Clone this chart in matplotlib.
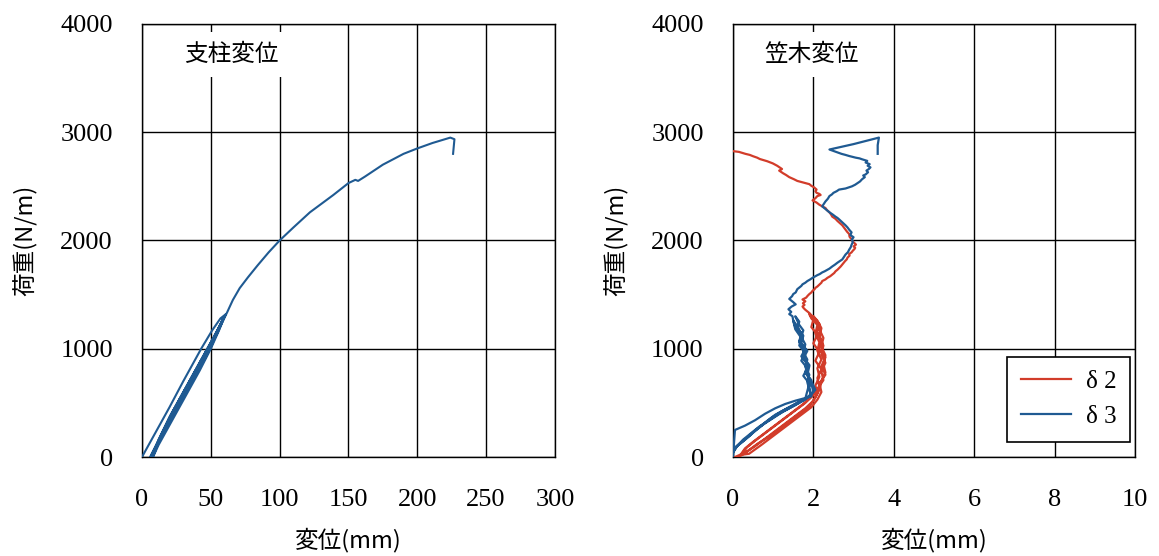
import matplotlib
matplotlib.use("Agg")
import matplotlib.pyplot as plt

# --- 支柱変位 (post displacement): mm vs N/m ---
post_disp = [0, 10, 20, 30, 43, 51, 57, 61,
             59, 52, 42, 32, 22, 14, 8,
             12, 22, 32, 42, 50, 56, 60,
             58, 51, 41, 31, 21, 13, 6,
             10, 20, 30, 40, 48, 55, 59,
             57, 50, 40, 30, 20, 12, 7,
             11, 21, 31, 41, 49, 56, 62,
             66, 71, 77, 84, 92, 100, 110, 122, 139, 150, 155, 157, 162, 175, 190,
             200, 211, 224, 227, 226]
post_load = [0, 230, 460, 700, 1000, 1170, 1280, 1320,
             1280, 1100, 870, 640, 410, 200, 0,
             110, 340, 570, 800, 1000, 1170, 1300,
             1250, 1080, 850, 620, 390, 180, 0,
             100, 330, 560, 790, 980, 1160, 1280,
             1220, 1060, 830, 600, 370, 160, 0,
             110, 340, 570, 800, 990, 1180, 1340,
             1450, 1560, 1660, 1770, 1890, 2000, 2120, 2260, 2420, 2530, 2560, 2550, 2590, 2700, 2800,
             2850, 2900, 2950, 2935, 2800]

# --- 笠木変位 δ2: load cycles, then final loading ---
d2_cyc_disp = [0.05, 0.35, 0.6, 0.9, 1.15, 1.4, 1.65, 1.9, 2.05, 2.15, 2.2, 2.3, 2.25, 2.3, 2.2, 2.25, 2.15, 2.1, 2.0,
               2.1, 2.2, 2.15, 2.25, 2.2, 2.3, 2.2, 2.25, 2.1, 1.95, 1.75, 1.5, 1.25, 1.0, 0.75, 0.5, 0.3, 0.15,
               0.3, 0.55, 0.8, 1.05, 1.3, 1.55, 1.8, 2.0, 2.1, 2.05, 2.15, 2.1, 2.2, 2.1, 2.15, 2.05, 2.1, 1.95, 1.9,
               2.0, 1.95, 2.1, 2.0, 2.15, 2.05, 2.2, 2.1, 2.15, 2.0, 1.8, 1.55, 1.3, 1.05, 0.8, 0.55, 0.35, 0.2,
               0.4, 0.7, 0.95, 1.2, 1.45, 1.7, 1.95, 2.1, 2.2, 2.15, 2.3, 2.2, 2.3, 2.15, 2.2, 2.1, 2.15, 2.0, 1.9]
d2_cyc_load = [0, 50, 120, 190, 260, 330, 400, 470, 550, 620, 700, 780, 860, 940, 1020, 1100, 1180, 1250, 1300,
               1260, 1190, 1110, 1030, 950, 870, 790, 710, 630, 560, 490, 420, 350, 280, 210, 140, 80, 0,
               40, 100, 170, 240, 310, 380, 450, 520, 590, 660, 740, 820, 900, 980, 1060, 1140, 1220, 1280, 1320,
               1270, 1200, 1130, 1050, 970, 890, 810, 730, 650, 570, 500, 430, 360, 290, 220, 150, 90, 20,
               30, 110, 180, 250, 320, 390, 460, 530, 600, 680, 760, 840, 920, 1000, 1080, 1160, 1230, 1290, 1330]
d2_fin_disp = [1.9, 1.85, 1.8, 1.76, 1.73, 1.78, 1.74, 1.8, 1.73, 1.82,
               1.86, 1.9, 1.95, 1.98, 2.03, 2.05, 2.1, 2.15, 2.2, 2.22,
               2.3, 2.35, 2.42, 2.47, 2.52, 2.55, 2.6, 2.64, 2.68, 2.72,
               2.76, 2.79, 2.83, 2.85, 2.9, 2.89, 2.95, 2.98, 3.02, 3.04,
               3.0, 3.06, 3.01, 2.97, 2.95, 2.9, 2.89, 2.84, 2.8, 2.76,
               2.72, 2.66, 2.6, 2.55, 2.47, 2.44, 2.4, 2.34, 2.3, 2.22,
               2.15, 2.08, 1.98, 2.05, 2.1, 2.18, 2.15, 2.08, 2.05, 2.08,
               2.02, 1.95, 1.9, 1.8, 1.72, 1.6, 1.52, 1.4, 1.32, 1.25,
               1.15, 1.22, 1.1, 0.99, 0.92, 0.85, 0.76, 0.67, 0.6, 0.5,
               0.42, 0.31, 0.22, 0.15, 0.05, 0.0]
d2_fin_load = [1330, 1345, 1360, 1375, 1390, 1405, 1420, 1438, 1455, 1472,
               1490, 1505, 1520, 1535, 1550, 1562, 1575, 1592, 1610, 1625,
               1640, 1655, 1670, 1685, 1700, 1715, 1730, 1745, 1760, 1778,
               1795, 1810, 1825, 1842, 1860, 1875, 1890, 1905, 1920, 1932,
               1945, 1962, 1980, 1995, 2010, 2035, 2060, 2080, 2100, 2120,
               2140, 2160, 2180, 2200, 2220, 2240, 2260, 2280, 2300, 2315,
               2330, 2350, 2370, 2390, 2410, 2420, 2430, 2440, 2455, 2470,
               2490, 2505, 2520, 2530, 2538, 2550, 2565, 2585, 2605, 2620,
               2645, 2660, 2690, 2712, 2722, 2732, 2742, 2752, 2765, 2778,
               2790, 2800, 2810, 2818, 2822, 2825]

# --- δ3 ---
d3_cyc_disp = [0.0, 0.05, 0.3, 0.55, 0.8, 1.05, 1.3, 1.55, 1.75, 1.95,
               1.9, 1.85, 1.9, 1.8, 1.85, 1.75, 1.8, 1.7, 1.75, 1.65, 1.6, 1.55,
               1.65, 1.6, 1.75, 1.7, 1.85, 1.75, 1.9, 1.85, 1.95, 2.0, 1.8, 1.5, 1.15, 0.9, 0.65, 0.45, 0.25, 0.1, 0.0,
               0.1, 0.3, 0.5, 0.75, 0.95, 1.2, 1.5, 1.8, 1.85, 1.9, 1.75, 1.85, 1.7, 1.8, 1.65, 1.7, 1.55, 1.5,
               1.6, 1.7, 1.65, 1.8, 1.7, 1.85, 1.8, 1.95, 2.05, 1.85, 1.55, 1.25, 1.0, 0.75, 0.55, 0.35, 0.15, 0.0,
               0.2, 0.4, 0.6, 0.8, 1.05, 1.35, 1.65, 1.95, 1.9, 1.95, 1.8, 1.9, 1.75, 1.8, 1.65, 1.7, 1.55, 1.5, 1.48]
d3_cyc_load = [0, 250, 290, 340, 400, 450, 490, 520, 540, 560,
               620, 690, 760, 830, 900, 970, 1040, 1110, 1170, 1220, 1260, 1300,
               1250, 1190, 1120, 1050, 980, 910, 840, 760, 680, 600, 530, 470, 400, 340, 280, 220, 160, 100, 40,
               100, 160, 230, 300, 360, 420, 480, 540, 610, 680, 750, 820, 890, 960, 1030, 1100, 1180, 1260,
               1210, 1140, 1070, 1000, 930, 860, 780, 700, 620, 550, 480, 420, 360, 300, 240, 180, 120, 70,
               130, 190, 260, 320, 390, 450, 510, 570, 640, 710, 780, 850, 920, 990, 1060, 1130, 1200, 1260, 1300]
d3_fin_disp = [1.48, 1.4, 1.45, 1.38, 1.46, 1.56, 1.5, 1.45, 1.4, 1.47,
               1.5, 1.56, 1.6, 1.65, 1.7, 1.73, 1.8, 1.85, 1.92, 1.98,
               2.05, 2.1, 2.16, 2.22, 2.28, 2.35, 2.4, 2.47, 2.53, 2.6,
               2.66, 2.72, 2.76, 2.8, 2.86, 2.89, 2.93, 2.95, 2.98, 2.96,
               3.0, 2.92, 2.95, 2.89, 2.85, 2.8, 2.72, 2.64, 2.6, 2.55,
               2.48, 2.4, 2.35, 2.3, 2.22, 2.26, 2.3, 2.36, 2.4, 2.46,
               2.5, 2.58, 2.64, 2.72, 2.8, 2.88, 2.96, 3.04, 3.1, 3.16,
               3.21, 3.28, 3.24, 3.3, 3.36, 3.32, 3.38, 3.42, 3.35, 3.4,
               3.3, 3.34, 3.21, 3.15, 3.05, 2.97, 2.89, 2.8, 2.7, 2.55,
               2.4, 3.0, 3.63, 3.6, 3.6]
d3_fin_load = [1300, 1320, 1340, 1365, 1390, 1410, 1430, 1445, 1460, 1485,
               1505, 1520, 1550, 1565, 1580, 1595, 1610, 1625, 1640, 1655,
               1670, 1680, 1690, 1705, 1715, 1730, 1740, 1760, 1775, 1795,
               1810, 1825, 1848, 1870, 1892, 1915, 1938, 1960, 1985, 2010,
               2030, 2050, 2075, 2100, 2120, 2140, 2168, 2195, 2208, 2220,
               2240, 2260, 2275, 2290, 2315, 2338, 2360, 2385, 2410, 2425,
               2440, 2455, 2470, 2475, 2480, 2490, 2500, 2515, 2530, 2545,
               2565, 2585, 2600, 2610, 2630, 2645, 2660, 2675, 2690, 2705,
               2720, 2735, 2750, 2758, 2765, 2772, 2780, 2790, 2800, 2820,
               2840, 2890, 2950, 2880, 2800]

RED = "#d23c2a"
BLUE = "#1f5a92"

plt.rcParams["font.family"] = ["Liberation Serif", "DejaVu Serif"]
JP = ["Noto Sans CJK JP", "DejaVu Sans"]

fig = plt.figure(figsize=(11.59, 5.56), dpi=100)
ax1 = fig.add_axes([0.1225, 0.178, 0.3563, 0.779])
ax2 = fig.add_axes([0.6324, 0.178, 0.3469, 0.779])


def style(ax, xmax, xstep):
    ax.set_ylim(0, 4000)
    ax.set_xlim(0, xmax)
    ax.set_yticks(range(0, 4001, 1000))
    ax.set_xticks([i * xstep for i in range(int(round(xmax / xstep)) + 1)])
    ax.grid(True, color="black", linewidth=1.0)
    ax.set_axisbelow(True)
    for s in ax.spines.values():
        s.set_color("black")
        s.set_linewidth(1.0)
    ax.tick_params(length=0, labelsize=19)
    ax.tick_params(axis="x", pad=23)
    ax.tick_params(axis="y", pad=21)
    ax.set_xlabel("変位(mm)", family=JP, fontsize=17, labelpad=12)
    ax.set_ylabel("荷重(N/m)", family=JP, fontsize=17, labelpad=16)


style(ax1, 300, 50)
ax1.plot(post_disp, post_load, color=BLUE, linewidth=1.5, zorder=3)
ax1.text(65, 3720, "支柱変位", family=JP, fontsize=17, ha="center", va="center",
         zorder=4, bbox=dict(facecolor="white", edgecolor="none", pad=8))

style(ax2, 10, 2)
ax2.plot(d2_cyc_disp + d2_fin_disp, d2_cyc_load + d2_fin_load,
         color=RED, linewidth=1.6, label="δ 2", zorder=3)
ax2.plot(d3_cyc_disp + d3_fin_disp, d3_cyc_load + d3_fin_load,
         color=BLUE, linewidth=1.6, label="δ 3", zorder=3)
ax2.text(1.95, 3720, "笠木変位", family=JP, fontsize=17, ha="center", va="center",
         zorder=4, bbox=dict(facecolor="white", edgecolor="none", pad=8))
leg = ax2.legend(loc="lower right", bbox_to_anchor=(0.988, 0.035), borderaxespad=0,
                 fontsize=18, fancybox=False, framealpha=1, edgecolor="black",
                 handlelength=2.0, handletextpad=0.6, borderpad=0.55, labelspacing=0.5)
leg.get_frame().set_linewidth(1.2)

fig.savefig("out.png", dpi=100)
